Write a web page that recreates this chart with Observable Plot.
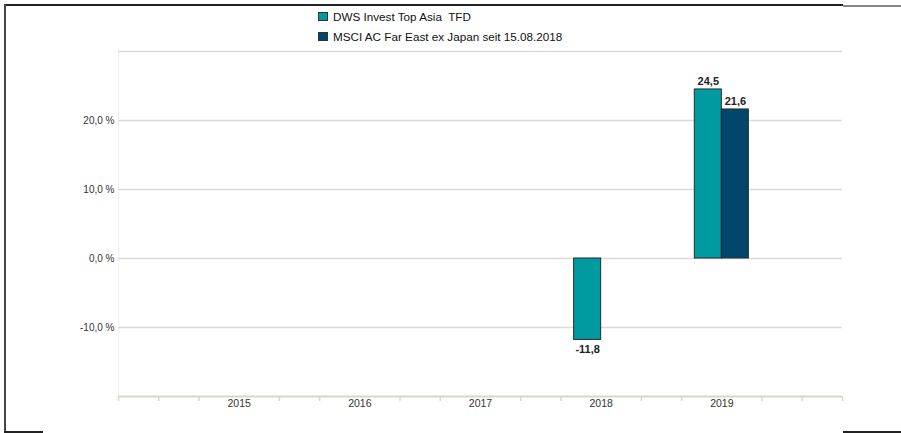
<!DOCTYPE html>
<html>
<head>
<meta charset="utf-8">
<script src="https://cdn.jsdelivr.net/npm/d3@7"></script>
<script src="https://cdn.jsdelivr.net/npm/@observablehq/plot@0.6"></script>
<style>
  html, body { margin: 0; padding: 0; background: #fff; }
  #wrap { position: relative; width: 901px; height: 433px; overflow: hidden; font-family: "Liberation Sans", Arial, sans-serif; }
  #chart { position: absolute; left: 0; top: 0; }
  .legend-item { position: absolute; left: 318px; height: 14px; line-height: 14px; font-size: 11.7px; color: #111; white-space: pre; }
  .legend-item .sw { position: absolute; left: 0; top: 2px; width: 8px; height: 7px; border: 1px solid #333; }
  .legend-item .lb { position: absolute; left: 15px; top: 0; }
  .line { position: absolute; background: #222; }
</style>
</head>
<body>
<div id="wrap">
  <div id="chart"></div>
  <div id="legend"></div>
  <div class="line" style="left:4px;top:4px;width:839px;height:2px;"></div>
  <div class="line" style="left:843px;top:5px;width:58px;height:2px;background:#888;"></div>
  <div class="line" style="left:4px;top:4px;width:2px;height:429px;background:#444;"></div>
  <div class="line" style="left:4px;top:431px;width:39px;height:2px;"></div>
  <div class="line" style="left:843px;top:431px;width:58px;height:2px;"></div>
</div>
<script>
// ---- data ----
const years = [2015, 2016, 2017, 2018, 2019];
const seriesNames = ["DWS Invest Top Asia  TFD", "MSCI AC Far East ex Japan seit 15.08.2018"];
const fundValues = [null, null, null, -11.8, 24.5];
const indexValues = [null, null, null, null, 21.6];
const seriesColors = ["#009ba0", "#00476b"];
const yTickValues = [-10, 0, 10, 20];
const gridValues = [-10, 0, 10, 20, 30];

// ---- build table ----
const rows = [];
years.forEach((yr, i) => {
  if (fundValues[i] != null) rows.push({year: yr, series: seriesNames[0], idx: 0, value: fundValues[i]});
  if (indexValues[i] != null) rows.push({year: yr, series: seriesNames[1], idx: 1, value: indexValues[i]});
});

const barW = 0.224; // width of each bar in year units
const x1 = d => d.idx === 0 ? d.year - barW : d.year;
const x2 = d => d.idx === 0 ? d.year : d.year + barW;
const xc = d => (x1(d) + x2(d)) / 2;
const fmt = v => v.toFixed(1).replace(".", ",");

// minor tick positions: every third of a year, skipping labelled years
const minorTicks = d3.range(0, 19).map(i => 2014 + i / 3)
  .filter(v => !years.some(y => Math.abs(y - v) < 1e-6));

const chart = Plot.plot({
  width: 901,
  height: 433,
  marginTop: 51,
  marginBottom: 37,
  marginLeft: 118,
  marginRight: 59,
  style: {fontFamily: "'Liberation Sans', Arial, sans-serif", background: "transparent", overflow: "visible"},
  x: {type: "linear", domain: [2014, 2020], label: null},
  y: {domain: [-20, 30], label: null},
  color: {domain: seriesNames, range: seriesColors},
  marks: [
    Plot.ruleX([2014], {stroke: "#f0f0f0", strokeWidth: 1}),
    Plot.ruleY(gridValues, {stroke: "#dcdad3", strokeWidth: 1.5}),
    Plot.ruleY([-20], {stroke: "#d8d5cc", strokeWidth: 2}),
    Plot.axisX({ticks: minorTicks, tickSize: 5, tickFormat: () => "", label: null, stroke: "#d8d5cc", strokeWidth: 1.5}),
    Plot.axisX({ticks: years, tickSize: 0, tickPadding: 3, label: null, tickFormat: d => String(d), fontSize: 10.5, fill: "#333"}),
    Plot.axisY({ticks: yTickValues, tickSize: 0, tickPadding: 4, label: null, tickFormat: d => fmt(d) + " %", fontSize: 10, fill: "#333"}),
    Plot.rectY(rows, {x1, x2, y1: 0, y2: "value", fill: "series", stroke: "#2a2a2a", strokeWidth: 1}),
    Plot.text(rows.filter(d => d.value >= 0), {x: xc, y: "value", text: d => fmt(d.value), lineAnchor: "bottom", dy: -4, fontSize: 11, fontWeight: "bold", fill: "#222"}),
    Plot.text(rows.filter(d => d.value < 0), {x: xc, y: "value", text: d => fmt(d.value), lineAnchor: "top", dy: 5, fontSize: 11, fontWeight: "bold", fill: "#222"})
  ]
});
document.getElementById("chart").appendChild(chart);

// legend
const legend = document.getElementById("legend");
seriesNames.forEach((name, i) => {
  const item = document.createElement("div");
  item.className = "legend-item";
  item.style.top = (10 + i * 19.5) + "px";
  const sw = document.createElement("span");
  sw.className = "sw";
  sw.style.background = seriesColors[i];
  const lb = document.createElement("span");
  lb.className = "lb";
  lb.textContent = name;
  item.appendChild(sw);
  item.appendChild(lb);
  legend.appendChild(item);
});
</script>
</body>
</html>
